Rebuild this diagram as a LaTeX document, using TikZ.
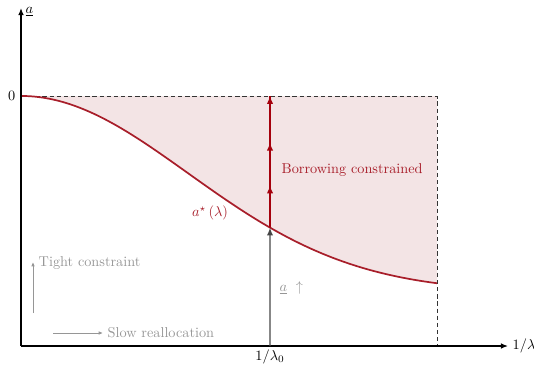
\documentclass[tikz,border=0pt]{standalone}
\usetikzlibrary{arrows.meta,decorations.markings,intersections}
\definecolor{crim}{RGB}{168,30,42}
\definecolor{darkred}{RGB}{165,0,12}
\definecolor{pinkfill}{RGB}{243,228,229}
\definecolor{gtext}{RGB}{150,150,150}
\definecolor{dgray}{RGB}{70,70,70}
\tikzset{
  axis/.style={line width=0.9pt,-{Latex[length=5pt,width=4pt]}},
  dashline/.style={line width=0.6pt,dash pattern=on 3pt off 2pt,black!80},
  curve/.style={line width=1.2pt,crim},
  redup/.style={line width=1.2pt,darkred,postaction={decorate},
    decoration={markings,
      mark=at position 0.32 with {\arrow{Latex[length=5.5pt,width=4.5pt]}},
      mark=at position 0.645 with {\arrow{Latex[length=5.5pt,width=4.5pt]}},
      mark=at position 1 with {\arrow{Latex[length=5.5pt,width=4.5pt]}}}},
  grayup/.style={line width=1pt,dgray,-{Latex[length=5.5pt,width=4.5pt]}},
  hint/.style={line width=0.6pt,gtext,-{Latex[length=3pt,width=2.5pt]}},
  hinttext/.style={text=gtext,anchor=west,inner sep=1pt},
}
\begin{document}
\begin{tikzpicture}[x=0.7pt,y=-0.7pt]
\useasboundingbox (0,0) rectangle (534,367);
\coordinate (O) at (21,346);
\coordinate (ytop) at (21,8);
\coordinate (xend) at (508,346);
\coordinate (zero) at (21,96);
\coordinate (zr) at (437,96);
\coordinate (br) at (437,346);
\coordinate (top) at (270,96);
\coordinate (base) at (270,346);
% fill
\fill[pinkfill] plot[domain=0:416,samples=120,variable=\t] ({21+\t},{96+196*(1-exp(-(\t/236)^2))}) -- (zr) -- cycle;
% dashed lines
\draw[dashline] (zero) -- (zr) -- (br);
% curve
\draw[curve,name path=astarcurve] plot[domain=0:416,samples=120,variable=\t] ({21+\t},{96+196*(1-exp(-(\t/236)^2))});
\path[name path=vline] (base) -- (top);
\path[name intersections={of=astarcurve and vline,by=cx}];
% axes
\draw[axis] (O) -- (ytop);
\draw[axis] (O) -- (xend);
% arrows
\draw[grayup] (base) -- (cx);
\draw[redup] (cx) -- (top);
% labels
\node[anchor=west,inner sep=1pt] (ylab) at (24,12) {$\underline{a}$};
\node[anchor=east,inner sep=1pt] (zlab) at (17,96) {$0$};
\node[anchor=west,inner sep=1pt] (xlab) at (511,346) {$1/\lambda$};
\node[inner sep=1pt] (l0) at (270,357) {$1/\lambda_0$};
\node[text=crim,inner sep=1pt] (astar) at (210,213) {$a^{\star}\left(\lambda\right)$};
\node[text=crim,anchor=west,inner sep=1pt] (bc) at (280,170) {Borrowing constrained};
\node[text=gtext,anchor=west,inner sep=1pt] (aup) at (278,288) {$\underline{a}\ \uparrow$};
% hints
\coordinate (t1) at (33,313);
\coordinate (t2) at (33,262);
\draw[hint] (t1) -- (t2);
\node[hinttext] (tc) at (37,263) {Tight constraint};
\coordinate (s1) at (53,333);
\coordinate (s2) at (103,333);
\draw[hint] (s1) -- (s2);
\node[hinttext] (sr) at (106,333) {Slow reallocation};
\end{tikzpicture}
\end{document}
